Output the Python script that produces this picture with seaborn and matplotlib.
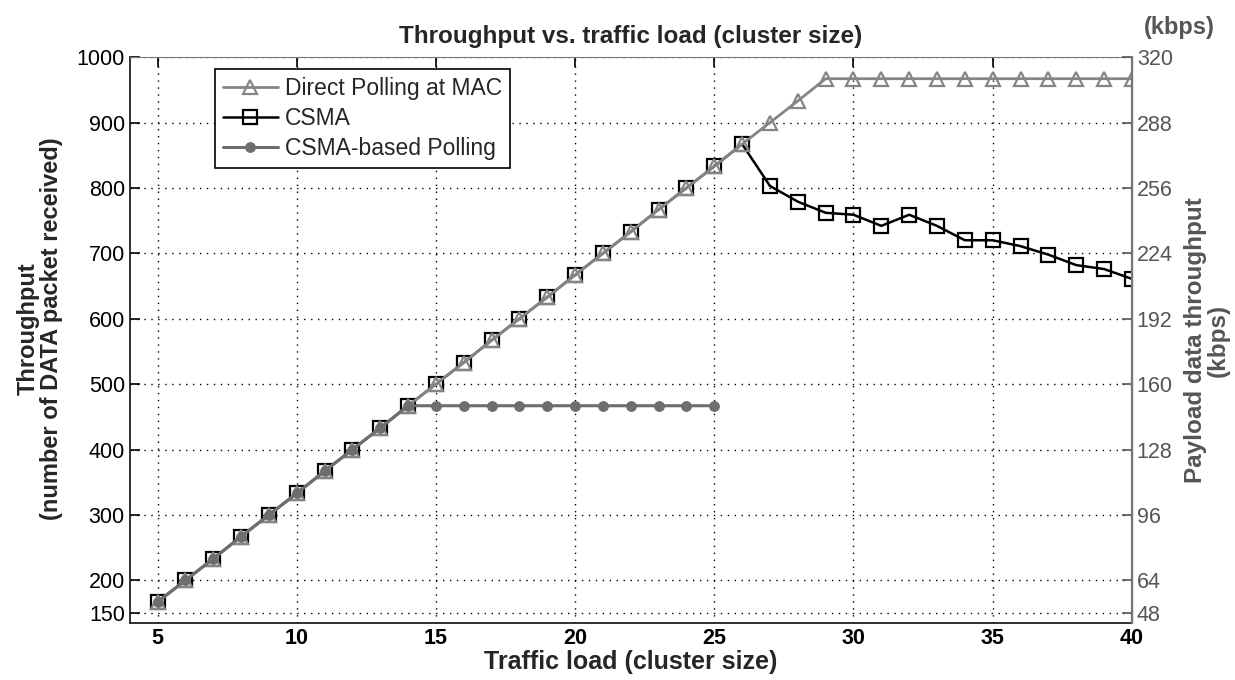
import matplotlib
matplotlib.use("Agg")
import matplotlib.pyplot as plt
import seaborn as sns
import pandas as pd

# Data
cluster_size = list(range(5, 41))
csma = [167, 200, 233, 267, 300, 333, 367, 400, 433, 467, 500, 533, 567, 600,
        633, 667, 700, 733, 767, 800, 833, 867, 803, 779, 762, 759, 742, 759,
        742, 720, 720, 711, 698, 682, 676, 661]
direct_polling = [167, 200, 233, 267, 300, 333, 367, 400, 433, 467, 500, 533,
                  567, 600, 633, 667, 700, 733, 767, 800, 833, 867, 900, 933,
                  967, 967, 967, 967, 967, 967, 967, 967, 967, 967, 967, 967]
polling_x = list(range(5, 26))
csma_polling = [167, 200, 233, 267, 300, 333, 367, 400, 433, 467, 467, 467,
                467, 467, 467, 467, 467, 467, 467, 467, 467]

left_ticks = [150, 200, 300, 400, 500, 600, 700, 800, 900, 1000]
right_ticks = [48, 64, 96, 128, 160, 192, 224, 256, 288, 320]
x_ticks = [5, 10, 15, 20, 25, 30, 35, 40]
kbps_per_packet = 0.32

df_csma = pd.DataFrame({'x': cluster_size, 'y': csma})
df_direct = pd.DataFrame({'x': cluster_size, 'y': direct_polling})
df_poll = pd.DataFrame({'x': polling_x, 'y': csma_polling})

sns.set_style("white")
plt.rcParams['font.family'] = ['Liberation Sans', 'DejaVu Sans']

fig = plt.figure(figsize=(12.35, 6.8), dpi=100)
ax = fig.add_axes([0.105, 0.084, 0.8115, 0.832])

sns.lineplot(data=df_csma, x='x', y='y', ax=ax, color='black', lw=1.8,
             marker='s', markersize=9.5, markerfacecolor='none',
             markeredgecolor='black', markeredgewidth=1.6,
             label='CSMA', zorder=3)
sns.lineplot(data=df_direct, x='x', y='y', ax=ax, color='#858585', lw=2.0,
             marker='^', markersize=10, markerfacecolor='none',
             markeredgecolor='#858585', markeredgewidth=1.6,
             label='Direct Polling at MAC', zorder=4)
sns.lineplot(data=df_poll, x='x', y='y', ax=ax, color='#6e6e6e', lw=2.2,
             marker='o', markersize=7, markerfacecolor='#6e6e6e',
             markeredgecolor='#6e6e6e', label='CSMA-based Polling', zorder=5)

ax.set_xlim(4, 40)
ax.set_ylim(135, 1000)
ax.set_xticks(x_ticks)
ax.set_yticks(left_ticks)
ax.grid(True, color='black', linestyle=(0, (1, 4)), linewidth=1.0)
ax.tick_params(direction='in', length=7, width=1.2, labelsize=15.5,
               top=True, colors='black')
for lab in ax.get_xticklabels():
    lab.set_fontweight('bold')
for s in ['left', 'bottom']:
    ax.spines[s].set_color('#222222')
    ax.spines[s].set_linewidth(1.3)
ax.spines['top'].set_color('#777777')
ax.spines['top'].set_linewidth(0.8)
ax.spines['top'].set_linestyle((0, (3, 1)))

ax.set_xlabel('Traffic load (cluster size)', fontsize=18, fontweight='bold',
              labelpad=1)
ax.set_ylabel('Throughput\n(number of DATA packet received)', fontsize=17,
              fontweight='bold', linespacing=1.0)
ax.yaxis.set_label_coords(-0.067, 0.52)
ax.set_title('Throughput vs. traffic load (cluster size)', fontsize=17.5,
             fontweight='bold', pad=10)

# Legend in the desired order
handles, labels = ax.get_legend_handles_labels()
order = [labels.index('Direct Polling at MAC'), labels.index('CSMA'),
         labels.index('CSMA-based Polling')]
leg = ax.legend([handles[i] for i in order], [labels[i] for i in order],
                loc='upper left', bbox_to_anchor=(0.085, 0.979),
                fontsize=16.5, frameon=True, fancybox=False, handlelength=2.4,
                handletextpad=0.3, borderpad=0.35, labelspacing=0.3,
                borderaxespad=0)
leg.get_frame().set_edgecolor('black')
leg.get_frame().set_linewidth(1.2)
leg.get_frame().set_alpha(1)

# Right axis in kbps
ax2 = ax.twinx()
ax2.set_ylim(135 * kbps_per_packet, 1000 * kbps_per_packet)
ax2.set_yticks(right_ticks)
ax2.tick_params(direction='in', length=7, width=1.2, labelsize=15.5,
                colors='#555555')
ax2.spines['right'].set_color('#777777')
ax2.spines['right'].set_linewidth(1.6)
for s in ['left', 'bottom', 'top']:
    ax2.spines[s].set_visible(False)
ax2.set_ylabel('Payload data throughput\n(kbps)', fontsize=17.5,
               fontweight='bold', color='#555555', labelpad=8,
               linespacing=1.0)
ax2.grid(False)

fig.text(0.955, 0.96, '(kbps)', fontsize=17, fontweight='bold',
         color='#555555', ha='center', va='center')

fig.savefig('out.png', dpi=100)
